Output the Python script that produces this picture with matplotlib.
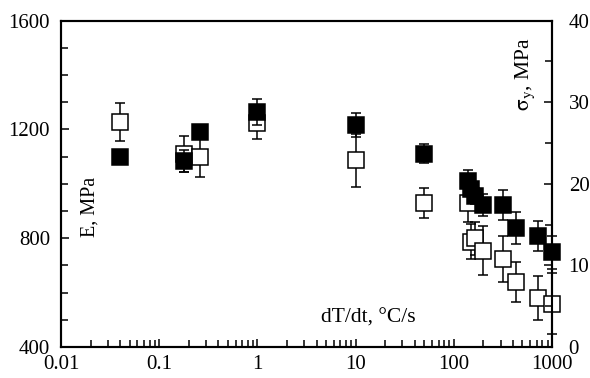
import matplotlib
matplotlib.use("Agg")
import matplotlib.pyplot as plt
from matplotlib.ticker import FixedLocator, FixedFormatter, LogLocator, NullFormatter, MultipleLocator

plt.rcParams['font.family'] = ['Liberation Serif', 'DejaVu Serif']
plt.rcParams['mathtext.fontset'] = 'stix'

# cooling rate, degC/s
rate = [0.04, 0.18, 0.26, 1, 10, 50, 140, 150, 165, 200, 320, 430, 715, 1000]
# Young's modulus (open squares, left axis)
E_mod = [1227, 1110, 1100, 1225, 1086, 928, 928, 787, 800, 754, 723, 639, 580, 559]
E_err = [70, 67, 75, 60, 97, 55, 70, 65, 60, 90, 85, 72, 80, 113]
# yield stress (filled squares, right axis)
sigma_y = [23.3, 22.8, 26.4, 28.8, 27.2, 23.7, 20.4, 19.4, 18.5, 17.4, 17.4, 14.6, 13.6, 11.6]
sigma_err = [0.5, 1.4, 0.5, 1.6, 1.5, 1.2, 1.3, 0.8, 1.0, 1.4, 1.8, 2.0, 1.8, 2.0]

x_ticks = [0.01, 0.1, 1, 10, 100, 1000]
x_labels = ['0.01', '0.1', '1', '10', '100', '1000']
E_ticks = [400, 800, 1200, 1600]
s_ticks = [0, 10, 20, 30, 40]

fig = plt.figure(figsize=(5.9, 3.78), dpi=100)
ax = fig.add_axes([61/590, 1-347/378, (552-61)/590, (347-20.7)/378])
ax2 = ax.twinx()

fs = 15
ax.set_xscale('log')
ax.set_xlim(0.01, 1000)
ax.set_ylim(400, 1600)
ax2.set_ylim(0, 40)

ax.errorbar(rate, E_mod, yerr=E_err, fmt='s', ms=11.5, mfc='white', mec='black',
            mew=1.1, ecolor='black', elinewidth=1.1, capsize=3.6, capthick=1.1,
            clip_on=False, zorder=3)
ax2.errorbar(rate, sigma_y, yerr=sigma_err, fmt='s', ms=11.5, mfc='black', mec='black',
             mew=1.1, ecolor='black', elinewidth=1.1, capsize=3.6, capthick=1.1,
             clip_on=False, zorder=3)

ax.xaxis.set_major_locator(FixedLocator(x_ticks))
ax.xaxis.set_major_formatter(FixedFormatter(x_labels))
ax.xaxis.set_minor_locator(LogLocator(base=10, subs=range(2, 10), numticks=20))
ax.xaxis.set_minor_formatter(NullFormatter())

ax.yaxis.set_major_locator(FixedLocator(E_ticks))
ax.yaxis.set_minor_locator(MultipleLocator(100))
ax2.yaxis.set_major_locator(FixedLocator(s_ticks))
ax2.yaxis.set_minor_locator(MultipleLocator(5))

for a in (ax, ax2):
    for sp in a.spines.values():
        sp.set_linewidth(1.5)
    a.tick_params(which='both', direction='in', width=1.1, labelsize=fs)
    a.tick_params(which='major', length=6)
    a.tick_params(which='minor', length=5)

ax.tick_params(axis='x', which='both', top=False, pad=6)
ax.tick_params(axis='y', which='both', right=False, pad=8)
ax2.tick_params(axis='y', which='both', left=False, pad=12)

ax.text((90-61)/491, 1-(207-20.7)/326.3, 'E, MPa', rotation=90, transform=ax.transAxes,
        ha='center', va='center', fontsize=14.5)
ax.text((525-61)/491, 1-(74-20.7)/326.3, r'$\mathrm{\sigma_y}$, MPa', rotation=90,
        transform=ax.transAxes, ha='center', va='center', fontsize=15.5)
ax.text((368-61)/491, 1-(318-20.7)/326.3, 'dT/dt, \u00b0C/s', transform=ax.transAxes,
        ha='center', va='center', fontsize=15.5)

fig.savefig('out.png', dpi=100)
